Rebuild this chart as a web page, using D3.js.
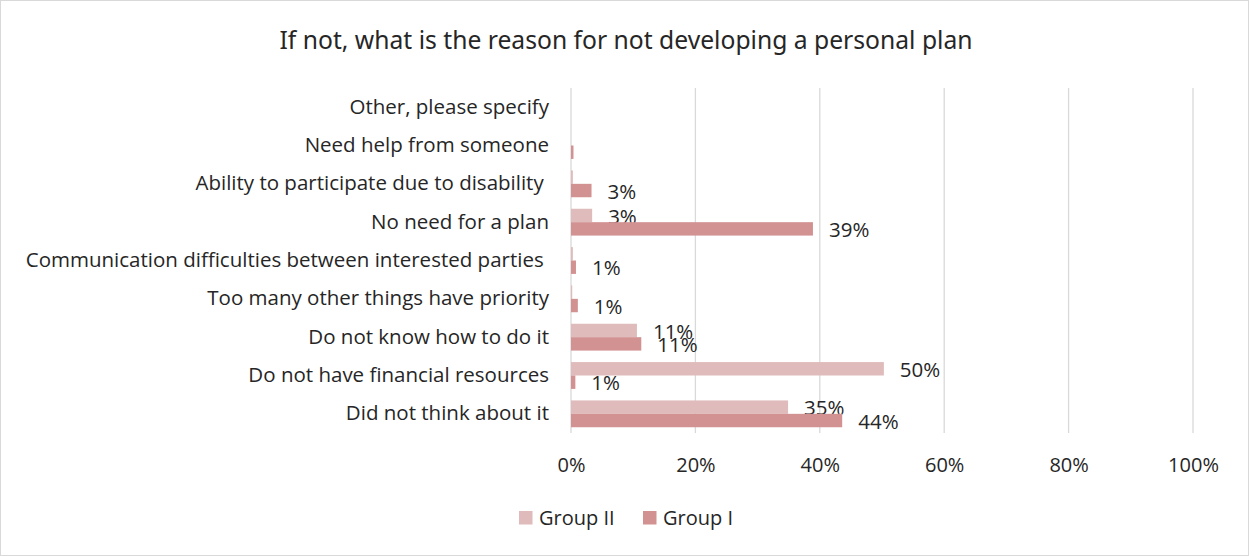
<!DOCTYPE html>
<html>
<head>
<meta charset="utf-8">
<script src="https://cdn.jsdelivr.net/npm/d3@7"></script>
<style>
  html, body { margin: 0; padding: 0; background: #fff; }
  svg { display: block; }
  text { fill: #262626; }
</style>
</head>
<body>
<svg id="chart" width="1249" height="556"></svg>
<script>
// Reasons for not developing a personal plan, share of respondents (%)
const categories = [
  "Other, please specify",
  "Need help from someone",
  "Ability to participate due to disability\u00a0",
  "No need for a plan",
  "Communication difficulties between interested parties\u00a0",
  "Too many other things have priority",
  "Do not know how to do it",
  "Do not have financial resources",
  "Did not think about it"
];
const seriesNames = ["Group II", "Group I"];
const groupII = [0, 0, 0.3, 3.4, 0.3, 0.2, 10.6, 50.3, 34.9];
const groupI  = [0, 0.4, 3.3, 38.9, 0.8, 1.1, 11.3, 0.7, 43.6];
const tickValues = [0, 20, 40, 60, 80, 100];
const colors = ["#E0BBBB", "#D39292"];
const title = "If not, what is the reason for not developing a personal plan";

const svg = d3.select("#chart");
const W = 1249, H = 556;
const font = "'Open Sans', 'Noto Sans', sans-serif";
const fs = 20.5;

// outer frame
svg.append("rect")
  .attr("x", 0.5).attr("y", 0.5)
  .attr("width", W - 1).attr("height", H - 1)
  .attr("fill", "#fff").attr("stroke", "#d9d9d9");

const plot = { left: 571, right: 1193, top: 88, bottom: 433 };

const x = d3.scaleLinear().domain([0, 100]).range([plot.left, plot.right]);
const y = d3.scaleBand().domain(categories).range([plot.top, plot.bottom]).paddingInner(0.3).paddingOuter(0.15);
const inner = d3.scaleBand().domain(seriesNames).range([0, y.bandwidth()]);

// vertical gridlines
svg.append("g")
  .selectAll("line")
  .data(tickValues)
  .join("line")
  .attr("x1", d => x(d)).attr("x2", d => x(d))
  .attr("y1", plot.top).attr("y2", plot.bottom)
  .attr("stroke", "#d9d9d9").attr("stroke-width", 1.3);

// x axis tick labels
const xAxis = d3.axisBottom(x).tickValues(tickValues).tickSize(0).tickPadding(0)
  .tickFormat(d => d + "%");
svg.append("g")
  .attr("transform", `translate(0,${plot.bottom + 39})`)
  .call(xAxis)
  .call(g => g.select(".domain").remove())
  .selectAll("text")
  .attr("font-family", font).attr("font-size", 20).attr("fill", "#262626")
  .attr("dy", 0);

// y axis category labels
const yAxis = d3.axisLeft(y).tickSize(0).tickPadding(22);
svg.append("g")
  .attr("transform", `translate(${plot.left},0)`)
  .call(yAxis)
  .call(g => g.select(".domain").remove())
  .selectAll("text")
  .attr("font-family", font).attr("font-size", fs).attr("fill", "#262626");

// bars
const rows = categories.map((c, i) => ({ cat: c, vals: [groupII[i], groupI[i]] }));
const series = seriesNames.map((s, k) => ({
  name: s, color: colors[k],
  points: rows.map(r => ({ cat: r.cat, v: r.vals[k] }))
}));

const fmt = v => Math.round(v) + "%";

series.forEach(s => {
  const g = svg.append("g");
  g.selectAll("rect")
    .data(s.points)
    .join("rect")
    .attr("x", x(0))
    .attr("y", d => y(d.cat) + inner(s.name))
    .attr("width", d => x(d.v) - x(0))
    .attr("height", inner.bandwidth())
    .attr("fill", s.color);

  g.selectAll("text")
    .data(s.points.filter(d => Math.round(d.v) >= 1))
    .join("text")
    .attr("x", d => x(d.v) + 16)
    .attr("y", d => y(d.cat) + inner(s.name) + inner.bandwidth() / 2 + 1)
    .attr("dy", "0.35em")
    .attr("font-family", font).attr("font-size", fs).attr("fill", "#262626")
    .text(d => fmt(d.v));
});

// title
svg.append("text")
  .attr("x", 626).attr("y", 49)
  .attr("text-anchor", "middle")
  .attr("font-family", "'Liberation Sans Narrow', 'Noto Sans', sans-serif")
  .attr("font-size", 25)
  .attr("fill", "#000")
  .attr("textLength", 693)
  .attr("lengthAdjust", "spacingAndGlyphs")
  .text(title);

// legend
const legend = svg.append("g").attr("transform", "translate(519,511)");
const legendOffsets = [0, 124];
seriesNames.forEach((s, k) => {
  const lg = legend.append("g").attr("transform", `translate(${legendOffsets[k]},0)`);
  lg.append("rect").attr("width", 13.5).attr("height", 13.5).attr("fill", colors[k]);
  lg.append("text").attr("x", 20).attr("y", 7).attr("dy", "0.35em")
    .attr("font-family", font).attr("font-size", 20).attr("fill", "#262626")
    .text(s);
});
</script>
</body>
</html>
